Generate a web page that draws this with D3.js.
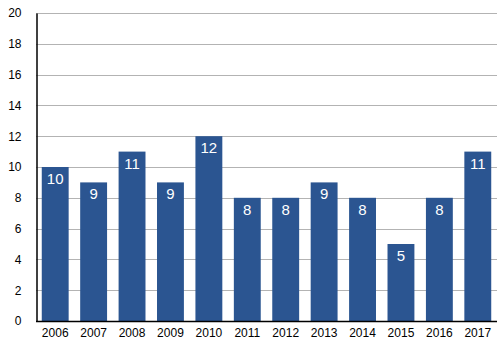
<!DOCTYPE html>
<html>
<head>
<meta charset="utf-8">
<script src="https://cdn.jsdelivr.net/npm/d3@7"></script>
<style>
  html, body { margin: 0; padding: 0; background: #fff; }
  svg { display: block; }
  text { font-family: "Liberation Sans", Arial, Helvetica, sans-serif; }
</style>
</head>
<body>
<svg id="chart" width="503" height="347"></svg>
<script>
const years = ["2006","2007","2008","2009","2010","2011","2012","2013","2014","2015","2016","2017"];
const counts = [10, 9, 11, 9, 12, 8, 8, 9, 8, 5, 8, 11];
const yTicks = [0, 2, 4, 6, 8, 10, 12, 14, 16, 18, 20];

const W = 503, H = 347;
const margin = { top: 13, right: 6, bottom: 26, left: 36 };
const svg = d3.select("#chart");

const x = d3.scaleBand()
  .domain(years)
  .range([margin.left, W - margin.right])
  .paddingInner(0.3)
  .paddingOuter(0.15);

const y = d3.scaleLinear()
  .domain([0, 20])
  .range([H - margin.bottom, margin.top]);

// horizontal gridlines
svg.append("g")
  .selectAll("line")
  .data(yTicks.filter(d => d > 0))
  .join("line")
  .attr("x1", margin.left)
  .attr("x2", W - margin.right)
  .attr("y1", d => Math.round(y(d)) + 0.5)
  .attr("y2", d => Math.round(y(d)) + 0.5)
  .attr("stroke", "#b3b3b3")
  .attr("stroke-width", 1);

// bars
svg.append("g")
  .selectAll("rect")
  .data(years)
  .join("rect")
  .attr("x", d => x(d))
  .attr("width", x.bandwidth())
  .attr("y", (d, i) => y(counts[i]))
  .attr("height", (d, i) => y(0) - y(counts[i]))
  .attr("fill", "#2b5591");

// value labels inside bar tops
svg.append("g")
  .selectAll("text")
  .data(years)
  .join("text")
  .attr("x", d => x(d) + x.bandwidth() / 2)
  .attr("y", (d, i) => y(counts[i]) + 17)
  .attr("text-anchor", "middle")
  .attr("fill", "#fff")
  .attr("font-size", "15px")
  .text((d, i) => counts[i]);

// y axis
const yAxis = d3.axisLeft(y).tickValues(yTicks).tickSize(0).tickPadding(15);
const gy = svg.append("g")
  .attr("transform", `translate(${margin.left + 0.5},0)`)
  .call(yAxis);
gy.select(".domain").attr("stroke", "#000").attr("stroke-width", 1.5);
gy.selectAll("text").attr("font-size", "12px").attr("fill", "#000")
  .attr("font-family", "'Liberation Sans', Arial, sans-serif");

// x axis
const xAxis = d3.axisBottom(x).tickSize(0).tickPadding(7);
const gx = svg.append("g")
  .attr("transform", `translate(0,${H - margin.bottom + 0.5})`)
  .call(xAxis);
gx.select(".domain").attr("stroke", "#000").attr("stroke-width", 1.5)
  .attr("d", `M${margin.left},0H${W - margin.right}`);
gx.selectAll("text").attr("font-size", "12px").attr("fill", "#000")
  .attr("font-family", "'Liberation Sans', Arial, sans-serif");
</script>
</body>
</html>
